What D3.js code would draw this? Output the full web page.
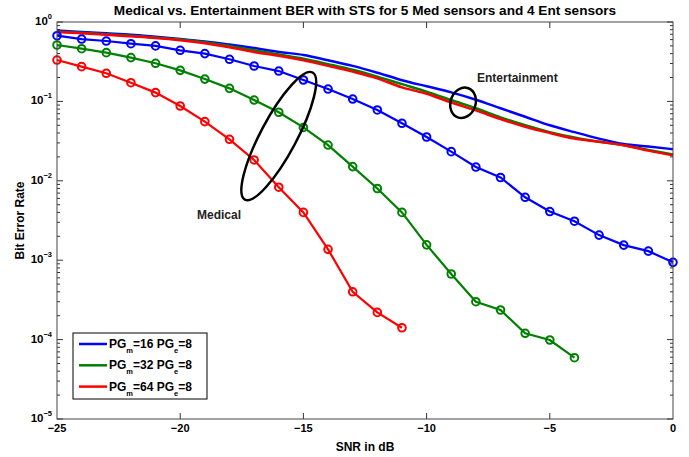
<!DOCTYPE html>
<html>
<head>
<meta charset="utf-8">
<script src="https://cdn.jsdelivr.net/npm/d3@7"></script>
<style>
  body { margin: 0; background: #fff; }
  text { font-family: "Liberation Sans", Arial, sans-serif; }
</style>
</head>
<body>
<script>
// SNR values (dB)
var snrAll = [-25, -24, -23, -22, -21, -20, -19, -18, -17, -16, -15, -14, -13,
              -12, -11, -10, -9, -8, -7, -6, -5, -4, -3, -2, -1, 0];
var snrMed32 = [-25, -24, -23, -22, -21, -20, -19, -18, -17, -16, -15, -14, -13,
                -12, -11, -10, -9, -8, -7, -6, -5, -4];
var snrMed64 = [-25, -24, -23, -22, -21, -20, -19, -18, -17, -16, -15, -14, -13,
                -12, -11];

// Medical BER (with markers)
var med16 = [0.672, 0.61, 0.576, 0.533, 0.50, 0.44, 0.40, 0.339, 0.279, 0.241, 0.186,
             0.143, 0.107, 0.078, 0.053, 0.0356, 0.0233, 0.0149, 0.011, 0.0062,
             0.0041, 0.0031, 0.00207, 0.00155, 0.0013, 0.00094];
var med32 = [0.513, 0.461, 0.411, 0.356, 0.302, 0.246, 0.191, 0.146, 0.104, 0.073,
             0.047, 0.0282, 0.0151, 0.008, 0.0040, 0.00156, 0.00067, 0.0003,
             0.000236, 0.00012, 0.0000988, 0.0000592];
var med64 = [0.332, 0.274, 0.226, 0.172, 0.129, 0.0875, 0.0556, 0.0333, 0.0183,
             0.0083, 0.0040, 0.00137, 0.0004, 0.00022, 0.000141];

// Entertainment BER (plain lines)
var ent16 = [0.78, 0.75, 0.72, 0.69, 0.65, 0.61, 0.57, 0.52, 0.47, 0.42, 0.385, 0.33,
             0.28, 0.23, 0.185, 0.155, 0.13, 0.105, 0.082, 0.064, 0.05, 0.041,
             0.034, 0.029, 0.027, 0.025];
var ent32 = [0.76, 0.73, 0.70, 0.67, 0.64, 0.60, 0.555, 0.50, 0.44, 0.39, 0.345, 0.295,
             0.25, 0.205, 0.165, 0.133, 0.104, 0.082, 0.063, 0.05, 0.041, 0.035,
             0.031, 0.028, 0.0245, 0.0215];
var ent64 = [0.75, 0.72, 0.69, 0.66, 0.63, 0.59, 0.54, 0.48, 0.42, 0.375, 0.33, 0.28,
             0.237, 0.195, 0.15, 0.125, 0.097, 0.077, 0.06, 0.048, 0.04, 0.034,
             0.031, 0.028, 0.024, 0.021];

var xTicks = [-25, -20, -15, -10, -5, 0];
var yTicks = [1, 1e-1, 1e-2, 1e-3, 1e-4, 1e-5];
var yExps = ["0", "\u22121", "\u22122", "\u22123", "\u22124", "\u22125"];
var legendLabels = [["16", "8"], ["32", "8"], ["64", "8"]];

var colors = ["#0000ff", "#008000", "#ff0000"];

var w = 689, h = 457;
var pLeft = 57, pRight = 673, pTop = 22, pBottom = 419;

var svg = d3.select("body").append("svg")
    .attr("width", w)
    .attr("height", h);

svg.append("rect")
    .attr("width", w)
    .attr("height", h)
    .attr("fill", "#fff");

var x = d3.scaleLinear().domain([-25, 0]).range([pLeft, pRight]);
var y = d3.scaleLog().domain([1e-5, 1]).range([pBottom, pTop]);

// Ticks (inward, on all four sides)
var tickCol = "#333";
xTicks.slice(1, -1).forEach(function(t) {
  svg.append("line")
    .attr("x1", x(t)).attr("x2", x(t))
    .attr("y1", pBottom).attr("y2", pBottom - 6)
    .attr("stroke", tickCol).attr("stroke-width", 1);
  svg.append("line")
    .attr("x1", x(t)).attr("x2", x(t))
    .attr("y1", pTop).attr("y2", pTop + 6)
    .attr("stroke", tickCol).attr("stroke-width", 1);
});

for (var e = -5; e < 0; e++) {
  for (var m = 2; m <= 9; m++) {
    var v = m * Math.pow(10, e);
    [[pLeft, 1], [pRight, -1]].forEach(function(s) {
      svg.append("line")
        .attr("x1", s[0]).attr("x2", s[0] + s[1] * 3)
        .attr("y1", y(v)).attr("y2", y(v))
        .attr("stroke", tickCol).attr("stroke-width", 1);
    });
  }
}
yTicks.forEach(function(t) {
  [[pLeft, 1], [pRight, -1]].forEach(function(s) {
    svg.append("line")
      .attr("x1", s[0]).attr("x2", s[0] + s[1] * 6)
      .attr("y1", y(t)).attr("y2", y(t))
      .attr("stroke", tickCol).attr("stroke-width", 1);
  });
});

// Tick labels
xTicks.forEach(function(t) {
  svg.append("text")
    .attr("x", x(t))
    .attr("y", 432)
    .attr("text-anchor", "middle")
    .style("font-size", "11px")
    .style("font-weight", "bold")
    .text(t < 0 ? "\u2212" + Math.abs(t) : String(t));
});

yTicks.forEach(function(t, i) {
  var lab = svg.append("text")
    .attr("x", 52)
    .attr("y", y(t) + 3)
    .attr("text-anchor", "end")
    .style("font-size", "11.5px")
    .style("font-weight", "bold");
  lab.append("tspan").text("10");
  lab.append("tspan")
    .attr("dy", -6)
    .style("font-size", "7.5px")
    .text(yExps[i]);
});

// Entertainment curves
var line = d3.line()
    .x(function(d) { return x(d[0]); })
    .y(function(d) { return y(d[1]); });
var smooth = d3.line()
    .x(function(d) { return x(d[0]); })
    .y(function(d) { return y(d[1]); })
    .curve(d3.curveMonotoneX);

[ent16, ent32, ent64].forEach(function(s, i) {
  svg.append("path")
    .datum(d3.zip(snrAll, s))
    .attr("d", smooth)
    .attr("fill", "none")
    .attr("stroke", colors[i])
    .attr("stroke-width", 2.5);
});

// Medical curves with circle markers
var medX = [snrAll, snrMed32, snrMed64];
[med16, med32, med64].forEach(function(s, i) {
  var pts = d3.zip(medX[i], s);
  svg.append("path")
    .datum(pts)
    .attr("d", line)
    .attr("fill", "none")
    .attr("stroke", colors[i])
    .attr("stroke-width", 2.2);
  svg.selectAll(null)
    .data(pts)
    .enter().append("circle")
    .attr("cx", function(d) { return x(d[0]); })
    .attr("cy", function(d) { return y(d[1]); })
    .attr("r", 3.8)
    .attr("fill", "none")
    .attr("stroke", colors[i])
    .attr("stroke-width", 2);
});

// Plot box
svg.append("rect")
    .attr("x", pLeft)
    .attr("y", pTop)
    .attr("width", pRight - pLeft)
    .attr("height", pBottom - pTop)
    .attr("fill", "none")
    .attr("stroke", "#444")
    .attr("stroke-width", 1);

// Annotations
svg.append("ellipse")
    .attr("transform", "translate(" + x(-16) + "," + y(0.0366) + ") rotate(-62)")
    .attr("rx", 72)
    .attr("ry", 18)
    .attr("fill", "none")
    .attr("stroke", "#000")
    .attr("stroke-width", 2.5);

svg.append("ellipse")
    .attr("transform", "translate(" + x(-8.52) + "," + y(0.096) + ") rotate(-70)")
    .attr("rx", 15.5)
    .attr("ry", 12.5)
    .attr("fill", "none")
    .attr("stroke", "#000")
    .attr("stroke-width", 2.5);

svg.append("text")
    .attr("x", 197)
    .attr("y", 219)
    .style("font-size", "12px")
    .style("font-weight", "bold")
    .style("fill", "#222")
    .text("Medical");

svg.append("text")
    .attr("x", 477)
    .attr("y", 82)
    .style("font-size", "12px")
    .style("font-weight", "bold")
    .style("fill", "#222")
    .text("Entertainment");

// Legend
svg.append("rect")
    .attr("x", 73)
    .attr("y", 333)
    .attr("width", 134)
    .attr("height", 66)
    .attr("fill", "#fff")
    .attr("stroke", "#000")
    .attr("stroke-width", 1);

legendLabels.forEach(function(l, i) {
  var ly = 344 + i * 21.3;
  svg.append("line")
    .attr("x1", 79).attr("x2", 107)
    .attr("y1", ly).attr("y2", ly)
    .attr("stroke", colors[i])
    .attr("stroke-width", 2.5);
  var t = svg.append("text")
    .attr("x", 109)
    .attr("y", ly + 4)
    .style("font-size", "12px")
    .style("font-weight", "bold");
  t.append("tspan").text("PG");
  t.append("tspan").attr("dy", 5).style("font-size", "7.5px").text("m");
  t.append("tspan").attr("dy", -5).text("=" + l[0] + " PG");
  t.append("tspan").attr("dy", 5).style("font-size", "7.5px").text("e");
  t.append("tspan").attr("dy", -5).text("=" + l[1]);
});

// Title and axis labels
svg.append("text")
    .attr("x", (pLeft + pRight) / 2)
    .attr("y", 15)
    .attr("text-anchor", "middle")
    .style("font-family", "'Liberation Sans Narrow', 'Liberation Sans', sans-serif")
    .style("font-size", "13.6px")
    .style("font-weight", "bold")
    .text("Medical vs. Entertainment BER with STS for 5 Med sensors and 4 Ent sensors");

svg.append("text")
    .attr("x", (pLeft + pRight) / 2)
    .attr("y", 451)
    .attr("text-anchor", "middle")
    .style("font-size", "12px")
    .style("font-weight", "bold")
    .text("SNR in dB");

svg.append("text")
    .attr("transform", "translate(24," + ((pTop + pBottom) / 2) + ") rotate(-90)")
    .attr("text-anchor", "middle")
    .style("font-size", "12px")
    .style("font-weight", "bold")
    .text("Bit Error Rate");
</script>
</body>
</html>
